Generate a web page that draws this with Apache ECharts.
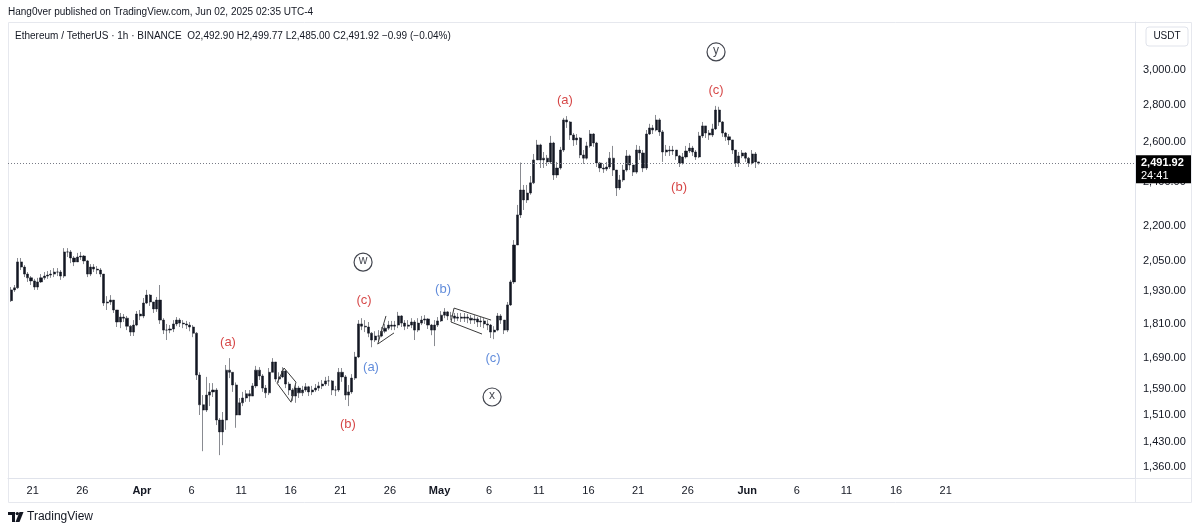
<!DOCTYPE html>
<html><head><meta charset="utf-8">
<script src="https://cdn.jsdelivr.net/npm/echarts@6/dist/echarts.min.js"></script>
<style>html,body{margin:0;padding:0;background:#fff}#c{width:1200px;height:531px}</style>
</head><body><div id="c"></div><script>
// ---------- data (8h bars, exchange time UTC-4, stored as UTC clock) ----------
const firstBarCentre = Date.UTC(2025, 2, 18, 20); // bar Mar 18 16:00-24:00
const barMs = 8 * 3600 * 1000;
const firstOpen = 1895;
const closes = [
  1936,
  1944,2047,2026, 1998,1983,1971, 1947,1967,1983, 1990,1994,1998, 2006,2006,1990,
  2088,2088,2063, 2047,2067,2071, 2051,1998,2026, 2018,2014,1998, 1886,1890,1897,
  1860,1816,1834, 1830,1801,1780, 1805,1845,1838,
  1886,1916,1890, 1864,1897,1823, 1787,1787,1791, 1809,1823,1812, 1809,1805,1798,
  1776,1634,1540, 1524,1570,1580, 1586,1494,1459, 1494,1650,1643, 1602,1509,1546,
  1561,1574,1567, 1599,1650,1631, 1592,1577,1643, 1677,1621,1628, 1647,1605,1586,
  1567,1592,1577, 1586,1596,1580, 1586,1592,1599, 1605,1615,1615, 1586,1586,1643,
  1628,1570,1580, 1624,1694,1809, 1801,1798,1776, 1752,1766,1766, 1783,1794,1805,
  1801,1805,1838, 1812,1801,1805, 1816,1787,1812, 1823,1827,1805, 1787,1805,1820,
  1841,1853,1838, 1838,1830,1834, 1830,1834,1830, 1823,1827,1816, 1820,1809,1805,
  1780,1787,1838, 1823,1787,1879, 1967,2117,2248, 2362,2316,2348, 2396,2508,2584,
  2508,2517,2498, 2594,2434,2468, 2558,2716,2705, 2636,2610,2620, 2533,2517,2579,
  2641,2594,2493, 2468,2463,2473, 2517,2458,2372, 2410,2458,2528, 2483,2448,2558,
  2543,2468,2641, 2673,2662,2716, 2652,2548,2558, 2553,2558,2528, 2493,2523,2553,
  2568,2548,2523, 2631,2684,2646, 2636,2668,2770, 2705,2646,2626, 2610,2558,2493,
  2528,2543,2517,
  2493,2538,2498,
  2491.92
];
const highs = [
  1947,
  1955,2063,2063, 2034,2006,1990, 1979,1983,1998, 2006,2010,2014, 2022,2022,2014,
  2104,2104,2096, 2071,2084,2088, 2075,2055,2038, 2038,2030,2022, 1998,1912,1916,
  1897,1860,1849, 1845,1838,1805, 1823,1856,1860,
  1905,1936,1920, 1890,1909,1955, 1830,1809,1805, 1823,1834,1830, 1823,1820,1816,
  1805,1780,1643, 1570,1628,1608, 1608,1592,1500, 1518,1667,1690, 1643,1610,1561,
  1580,1586,1586, 1608,1664,1660, 1637,1602,1657, 1690,1677,1643, 1660,1650,1612,
  1592,1602,1599, 1599,1608,1599, 1599,1605,1612, 1618,1628,1631, 1618,1599,1657,
  1657,1634,1602, 1637,1711,1823, 1830,1823,1816, 1780,1783,1787, 1798,1809,1820,
  1820,1820,1853, 1841,1823,1823, 1830,1823,1830, 1838,1841,1830, 1809,1823,1834,
  1856,1867,1856, 1853,1849,1849, 1849,1849,1845, 1841,1841,1834, 1834,1830,1823,
  1809,1801,1849, 1845,1823,1890, 1975,2138,2293, 2495,2386,2386, 2429,2538,2610,
  2590,2548,2533, 2631,2600,2498, 2574,2727,2737, 2710,2646,2641, 2625,2558,2600,
  2662,2645,2600, 2498,2488,2498, 2548,2579,2458, 2434,2483,2558, 2535,2483,2584,
  2579,2558,2662, 2695,2689,2743, 2725,2662,2584, 2579,2579,2558, 2533,2543,2579,
  2594,2579,2558, 2652,2705,2684, 2662,2695,2793, 2788,2710,2652, 2641,2594,2558,
  2548,2558,2548,
  2523,2558,2548,
  2499.77
];
const lows = [
  1890,
  1928,1940,2014, 1986,1967,1955, 1936,1936,1963, 1975,1979,1983, 1986,1990,1975,
  1983,2067,2042, 2030,2047,2055, 2038,1986,1990, 2006,1998,1986, 1875,1860,1879,
  1849,1798,1794, 1816,1787,1766, 1766,1801,1823,
  1830,1882,1875, 1849,1853,1809, 1773,1752,1776, 1780,1801,1798, 1794,1791,1783,
  1762,1618,1509, 1404,1518,1536, 1564,1479,1393, 1421,1465,1624, 1580,1471,1509,
  1536,1549,1549, 1567,1592,1618, 1580,1561,1570, 1643,1612,1608, 1624,1592,1570,
  1552,1546,1561, 1567,1580,1567, 1570,1580,1583, 1589,1599,1599, 1570,1567,1580,
  1612,1555,1536, 1574,1618,1690, 1787,1780,1762, 1727,1745,1748, 1762,1776,1787,
  1787,1787,1794, 1798,1787,1791, 1794,1752,1780, 1805,1809,1791, 1769,1731,1798,
  1816,1830,1823, 1823,1816,1820, 1816,1816,1812, 1809,1809,1798, 1798,1794,1787,
  1759,1755,1783, 1809,1773,1780, 1875,1959,2117, 2234,2270,2302, 2340,2390,2508,
  2468,2468,2478, 2488,2410,2420, 2460,2548,2673, 2610,2579,2584, 2517,2488,2510,
  2570,2574,2473, 2448,2444,2453, 2463,2429,2334, 2362,2401,2450, 2458,2429,2440,
  2508,2448,2458, 2636,2641,2655, 2631,2498,2528, 2528,2533,2508, 2473,2485,2515,
  2543,2528,2508, 2517,2620,2620, 2610,2625,2662, 2684,2626,2605, 2584,2538,2473,
  2473,2517,2498,
  2473,2485,2468,
  2485
];
const lastPrice = 2491.92;
const xTickDates = ['2025-03-21','2025-03-26','2025-04-01','2025-04-06','2025-04-11','2025-04-16',
  '2025-04-21','2025-04-26','2025-05-01','2025-05-06','2025-05-11','2025-05-16','2025-05-21',
  '2025-05-26','2025-06-01','2025-06-06','2025-06-11','2025-06-16','2025-06-21'];
const monthNames = ['Jan','Feb','Mar','Apr','May','Jun','Jul','Aug','Sep','Oct','Nov','Dec'];
const yTicks = [1360,1430,1510,1590,1690,1810,1930,2050,2200,2400,2600,2800,3000];
const redLabels = [
  ['2025-04-09T16:20Z',1745,'(a)'], ['2025-04-21T18:30Z',1482,'(b)'], ['2025-04-23T09:20Z',1897,'(c)'],
  ['2025-05-13T15:20Z',2826,'(a)'], ['2025-05-25T03:10Z',2376,'(b)'], ['2025-05-28T20:40Z',2883,'(c)']
];
const blueLabels = [
  ['2025-04-24T02:10Z',1660,'(a)'], ['2025-05-01T08:25Z',1936,'(b)'], ['2025-05-06T09:20Z',1690,'(c)']
];
const circledLabels = [
  ['2025-04-23T07:00Z',2046,'w'], ['2025-05-06T07:00Z',1564,'x'], ['2025-05-28T20:40Z',3110,'y']
];
const drawings = [
  [['2025-04-15T07:55Z',1657],['2025-04-16T12:40Z',1611],['2025-04-16T00:45Z',1548],['2025-04-14T14:50Z',1608],['2025-04-15T07:55Z',1657]],
  [['2025-04-25T14:25Z',1838],['2025-04-24T18:30Z',1738],['2025-04-26T09:50Z',1777]],
  [['2025-05-06T04:35Z',1823],['2025-05-02T11:00Z',1867],['2025-05-02T03:40Z',1816],['2025-05-05T06:40Z',1773]]
];
// ---------- build ----------
const FONT = "'Liberation Sans', Arial, sans-serif";
const INK = '#131722';
const candles = closes.map((c, i) => [
  firstBarCentre + i * barMs, i === 0 ? firstOpen : closes[i - 1], c, lows[i], highs[i]
]);
const xMin = Date.UTC(2025, 2, 18, 12, 16);
const xMax = Date.UTC(2025, 6, 10, 1, 56);
function fmtPrice(v) {
  const s = Number(v).toFixed(2).split('.');
  return s[0].replace(/\B(?=(\d{3})+(?!\d))/g, ',') + '.' + s[1];
}
const toPts = arr => arr.map(a => [Date.parse(a[0]), a[1], a[2]]);
const chart = echarts.init(document.getElementById('c'), null, {renderer: 'canvas'});
const option = {
  animation: false,
  backgroundColor: '#ffffff',
  grid: {left: 8, right: 65, top: 22, bottom: 53, containLabel: false},
  xAxis: {
    type: 'value', min: xMin, max: xMax, scale: true,
    axisLine: {show: true, lineStyle: {color: '#e0e3eb', width: 1}},
    axisTick: {show: false},
    splitLine: {show: false},
    axisLabel: {
      customValues: xTickDates.map(d => Date.parse(d + 'T00:00Z')),
      margin: 7, color: INK, fontSize: 11, fontFamily: FONT,
      formatter: v => {
        const d = new Date(v);
        return d.getUTCDate() === 1 ? '{m|' + monthNames[d.getUTCMonth()] + '}' : String(d.getUTCDate());
      },
      rich: {m: {fontWeight: 'bold', fontSize: 11, fontFamily: FONT, color: INK}}
    }
  },
  yAxis: {
    type: 'log', logBase: 10, position: 'right', min: 1331, max: 3301,
    axisLine: {show: true, lineStyle: {color: '#e0e3eb'}},
    axisTick: {show: false},
    splitLine: {show: false},
    axisLabel: {customValues: yTicks, margin: 8, color: INK, fontSize: 11, fontFamily: FONT,
      formatter: v => fmtPrice(v)}
  },
  series: [
    {
      type: 'candlestick', name: 'ETHUSDT',
      dimensions: ['time', 'open', 'close', 'lowest', 'highest'],
      encode: {x: 'time', y: ['open', 'close', 'lowest', 'highest']},
      data: candles, barWidth: 2.6,
      itemStyle: {color: INK, color0: INK, borderColor: INK, borderColor0: INK, borderWidth: 0.5},
      markLine: {silent: true, symbol: ['none', 'none'], label: {show: false},
        lineStyle: {type: [1, 2], color: '#787b86', width: 1},
        data: [{yAxis: lastPrice}]}
    },
    ...drawings.map(d => ({
      type: 'line', data: d.map(p => [Date.parse(p[0]), p[1]]), symbol: 'none', silent: true,
      lineStyle: {color: '#3a3a3a', width: 1}, z: 3
    })),
    {
      type: 'scatter', data: toPts(redLabels), symbolSize: 1, itemStyle: {color: 'rgba(0,0,0,0)'}, z: 5,
      label: {show: true, position: 'inside', formatter: p => p.data[2], color: '#cc1818', fontSize: 13, fontFamily: FONT}
    },
    {
      type: 'scatter', data: toPts(blueLabels), symbolSize: 1, itemStyle: {color: 'rgba(0,0,0,0)'}, z: 5,
      label: {show: true, position: 'inside', formatter: p => p.data[2], color: '#3a6fd2', fontSize: 13, fontFamily: FONT}
    },
    {
      type: 'scatter', data: toPts(circledLabels), symbol: 'circle', symbolSize: 18, z: 5,
      itemStyle: {color: '#ffffff', borderColor: INK, borderWidth: 1.2},
      label: {show: true, position: 'inside', formatter: p => p.data[2], color: INK, fontSize: 12, fontFamily: FONT, offset: [0, -1]}
    }
  ]
};
chart.setOption(option);
const py = chart.convertToPixel({yAxisIndex: 0}, lastPrice);
chart.setOption({
  graphic: [
    {type: 'rect', shape: {x: 8.5, y: 22.5, width: 1183, height: 480}, style: {fill: 'none', stroke: '#e6e8ee', lineWidth: 1}, silent: true},
    {type: 'line', shape: {x1: 1135.5, y1: 22, x2: 1135.5, y2: 502}, style: {stroke: '#e6e8ee', lineWidth: 1}, silent: true},
    {type: 'line', shape: {x1: 8, y1: 478.5, x2: 1192, y2: 478.5}, style: {stroke: '#e6e8ee', lineWidth: 1}, silent: true},
    {type: 'text', x: 8, y: 12, style: {text: 'Hang0ver published on TradingView.com, Jun 02, 2025 02:35 UTC-4', fill: INK, font: '10px ' + FONT, textVerticalAlign: 'middle'}},
    {type: 'text', x: 15, y: 36, style: {text: 'Ethereum / TetherUS · 1h · BINANCE  O2,492.90 H2,499.77 L2,485.00 C2,491.92 −0.99 (−0.04%)', fill: INK, font: '10px ' + FONT, textVerticalAlign: 'middle'}},
    {type: 'rect', shape: {x: 1146, y: 27, width: 42, height: 19, r: 3}, style: {fill: '#fff', stroke: '#e0e3eb'}},
    {type: 'text', x: 1167, y: 36.5, style: {text: 'USDT', fill: INK, font: '10px ' + FONT, textAlign: 'center', textVerticalAlign: 'middle'}},
    {type: 'rect', shape: {x: 1136, y: py - 8, width: 55, height: 28}, style: {fill: '#000'}, z: 100},
    {type: 'text', x: 1141, y: py, z: 101, style: {text: fmtPrice(lastPrice), fill: '#fff', font: 'bold 11px ' + FONT, textVerticalAlign: 'middle'}},
    {type: 'text', x: 1141, y: py + 13, z: 101, style: {text: '24:41', fill: '#fff', font: '11px ' + FONT, textVerticalAlign: 'middle'}},
    {type: 'rect', shape: {x: 8, y: 512, width: 7, height: 3}, style: {fill: INK}},
    {type: 'rect', shape: {x: 12, y: 512, width: 3, height: 10}, style: {fill: INK}},
    {type: 'circle', shape: {cx: 17.3, cy: 513.6, r: 1.7}, style: {fill: INK}},
    {type: 'polygon', shape: {points: [[19.5, 512], [23.5, 512], [19.5, 522], [15.5, 522]]}, style: {fill: INK}},
    {type: 'text', x: 27, y: 517, style: {text: 'TradingView', fill: INK, font: '12px ' + FONT, textVerticalAlign: 'middle'}}
  ]
});
</script></body></html>
